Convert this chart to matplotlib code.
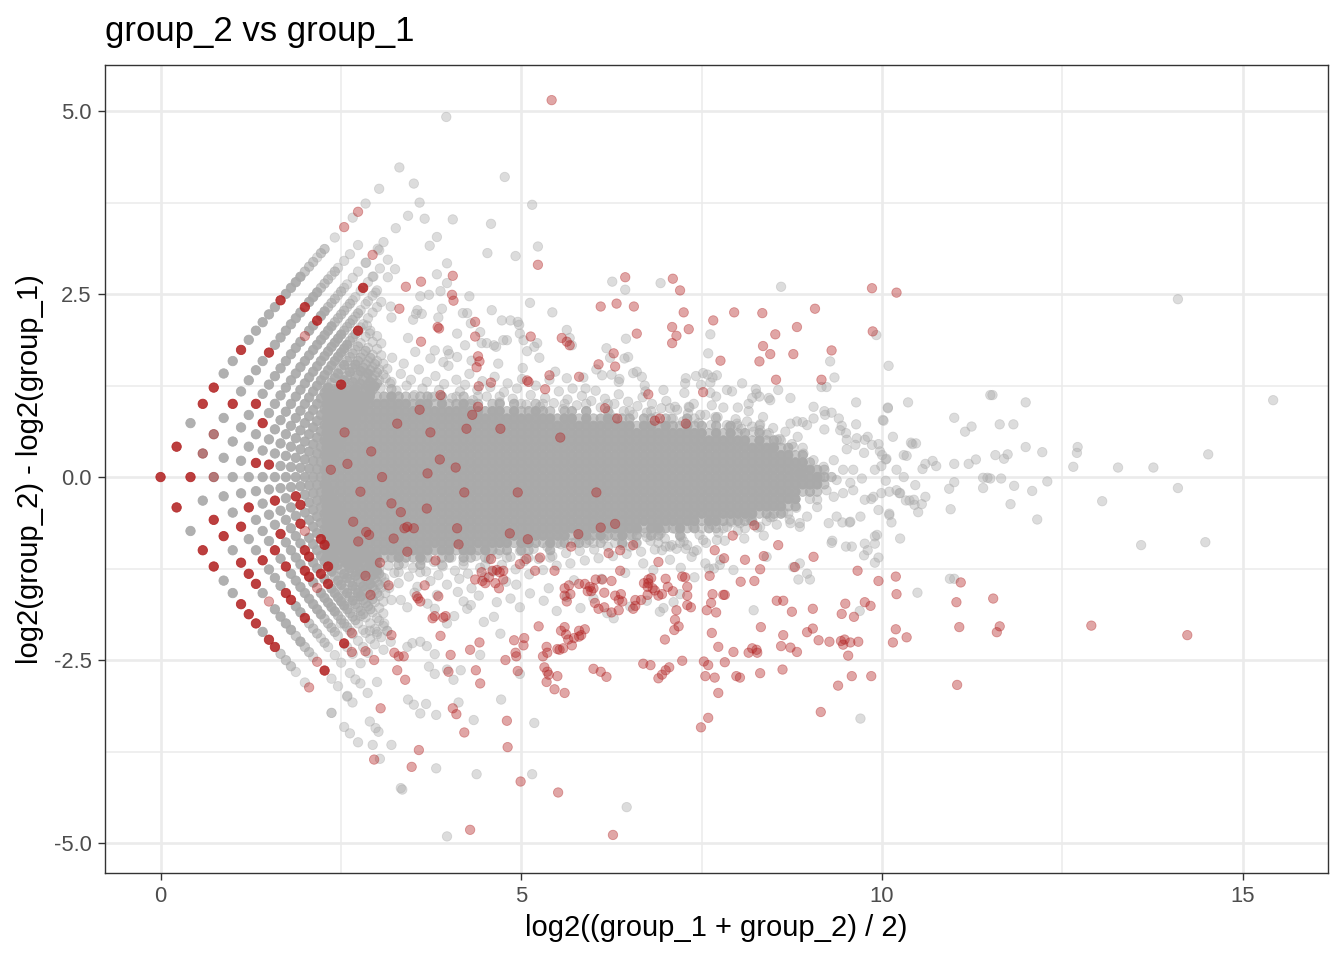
import numpy as np
import matplotlib.pyplot as plt
from matplotlib.colors import to_rgba

plt.rcParams['font.family'] = ['Liberation Sans', 'DejaVu Sans']

# low counts: summed counts of 3 replicates per group (mean = sum / 3)
# upper_arcs[k1] -> one code per group_2 sum, starting at k2 = k1
# lower_arcs[k2] -> one code per group_1 sum, starting at k1 = k2 + 1
# g/h/G = 1/2/5 genes not significant, r/R = 1/4 significant genes,
# m = 4 not significant + 1 significant on the same spot
upper_arcs = {
    3: "RRGRRGGRGGGGGRGGGG" "hhhghh" "..g..r..g.r..g.....g",
    4: "RmmGRGGGGRGGGGGGRGGG" "hhhghg" ".g.g..g",
    5: "mGGGGRGGGGGGGGrGGRGG" "hhhghgg" ".g.g..g..r",
    6: "GGGGR" "GGGGGGGGGGGGGGG" "hhhh" "ghgg.gR.g.g",
    7: "GR" "GGGGGGGGGG" "GGGGGGGGG" "hhhh" "ghg.gg.g.g",
    8: "GR" "GGGGGGGGGG" "GGGGGGGGG" "hhhR" "gg.g.g.g.g",
    9: "GGGGGGGGGGGG" "GhGGhGhh" "hghg.g.g",
    10: "GGGGGGGGGGGGGG" "R" "GhGhGh" "hghg.g.g",
    11: "GGGGGGGGGGGGGG" "GhGhhGhh" "ghg.g.g",
    12: "GGGGGGGGGGGGGGGG" "hGhhGh" "ghg.g",
    13: "GGGGGGGGGGGGGGGG" "hGhGh" "ghg.g",
    14: "GGGGGGGGGGGGGGGG" "hGhGh" "g.g.g",
}
lower_arcs = {
    3: "RGRRGGRRRGRR" "hhhg.gr" ".....h" "...g.g..g",
    4: "GRRGRRRGr" "GGGG" "hGhh" "gr" ".R" ".g.g" "..g",
    5: "GGRGG" "R" "GGG" "RR" "GG" "R" "hhh" "g" "h" "g" ".g.g" "..g" ".g",
    6: "GRGGGRGR" "GGGGGGGG" "hhhh" "g.Rg.g..g",
    7: "GGGGR" "GGGG" "RR" "G" "r" "GGGGG" "hhhh" "gg.g.g.g",
    8: "GR" "GGGGG" "RRGGRGR" "GGGGG" "hhhh" "g.gg.g.g",
    9: "GGGGRr" "GGGGG" "R" "GhGGhGhG" "hhhh" "g.g.gg.g",
    10: "GRR" "GGGG" "RR" "GhGGhGGhGhGG" "hhhh" "g.gg.g.g",
    11: "GGGGGGGGGGGGGG" "GhGhhGhh" "ghg.g.g",
    12: "GGGGGGGGGGGGGGGG" "hGhhGh" "ghg.g",
    13: "GGGGGGGGGGGGGGGG" "hGhGh" "ghg.g",
    14: "GGGGGGGGGGGGGGGG" "hGhGh" "g.g.g",
}
# (not significant, significant) genes behind each code
code_genes = {'g': (1, 0), 'h': (2, 0), 'G': (5, 0), 'r': (0, 1), 'R': (0, 4), 'm': (4, 1)}

# dense centre: genes per 0.1 x 0.1 cell (9 = nine or more), columns 2.3 ... 9.8
core_x = np.round(np.arange(2.3, 9.85, 0.1), 1)
core_y = [1.3, 1.2, 1.1, 1.0, 0.9, 0.8, 0.7, 0.6, 0.5, 0.4, 0.3, 0.2, 0.1, 0.0,
          -0.1, -0.2, -0.3, -0.4, -0.5, -0.6, -0.7, -0.8, -0.9, -1.0, -1.1, -1.2, -1.3]
core_density = [
    "1000001001 0000000000 0000000000 0000000000 0000000000 0000000000 0000000000 000000",
    "3231303002 0000000000 0000000000 0000000000 0000000000 0000000000 0000000000 000000",
    "9992929239 3212313012 0100100000 0000000000 0000000000 0000000000 0000000000 000000",
    "9999999999 9939929239 3202303102 1001001001 0000000000 0000000000 0000000000 000000",
    "9999999999 9999999999 9939929239 3202303002 0010010000 0000000000 0000000000 000000",
    "9999999999 9999999999 9999999999 9939929239 3230320210 3100100000 0000000000 000000",
    "9999999999 9999999999 9999999999 9999999999 9992993932 9230303100 1000000000 000000",
    "9999999999 9999999999 9999999999 9999999999 9999999999 9992929230 3000000000 000000",
    "9999999999 9999999999 9999999999 9999999999 9999999999 9999999992 9231000000 000000",
    "9999999999 9999999999 9999999999 9999999999 9999999999 9999999999 9992301000 000000",
    "9999999999 9999999999 9999999999 9999999999 9999999999 9999999999 9999923000 000000",
    "9999999999 9999999999 9999999999 9999999999 9999999999 9999999999 9999999200 000000",
    "9999999999 9999999999 9999999999 9999999999 9999999999 9999999999 9999999932 000000",
    "9999999999 9999999999 9999999999 9999999999 9999999999 9999999999 9999999993 200000",
    "9999999999 9999999999 9999999999 9999999999 9999999999 9999999999 9999999992 000000",
    "9999999999 9999999999 9999999999 9999999999 9999999999 9999999999 9999992320 000000",
    "9999999999 9999999999 9999999999 9999999999 9999999999 9999999999 9999990100 000000",
    "9999999999 9999999999 9999999999 9999999999 9999999999 9999999999 9999230000 000000",
    "9999999999 9999999999 9999999999 9999999999 9999999999 9999999999 2323100000 000000",
    "9999999999 9999999999 9999999999 9999999999 9999999999 9929932323 0100000000 000000",
    "9999999999 9999999999 9999999999 9999999999 9999299329 2313210010 0000000000 000000",
    "9999999999 9999999999 9999999999 9999299393 2923032003 0000000000 0000000000 000000",
    "9999999999 9999999999 9999992993 2923132120 1301001001 0000000000 0000000000 000000",
    "9999999999 9999939929 9393230320 0300000000 0000000000 0000000000 0000000000 000000",
    "9929939923 9329202303 2020010010 0100000000 0000000000 0000000000 0000000000 000000",
    "2303202300 2003001001 0010000000 0000000000 0000000000 0000000000 0000000000 000000",
    "0100100100 1001000000 0000000000 0000000000 0000000000 0000000000 0000000000 000000",
]

# single genes outside the dense part
grey_xy = [
    (3.96, 4.92), (3.31, 4.23), (3.51, 4.01), (3.59, 3.75), (4.77, 4.10), (5.15, 3.72),
    (3.43, 3.57), (3.66, 3.53), (4.05, 3.52), (4.58, 3.46), (3.26, 3.40), (3.83, 3.28),
    (3.73, 3.16), (3.09, 3.21), (3.01, 3.12), (3.03, 3.10), (4.53, 3.06), (4.92, 3.02),
    (5.23, 3.15), (2.85, 2.93), (3.15, 2.97), (3.25, 2.84), (3.04, 2.85), (3.97, 2.92),
    (3.83, 2.77), (3.15, 2.73), (2.95, 2.74), (2.98, 2.52), (3.97, 2.65), (3.88, 2.54),
    (3.72, 2.49), (3.60, 2.47), (4.28, 2.47), (6.26, 2.67), (6.44, 2.56), (6.93, 2.65),
    (5.12, 2.38), (5.43, 2.25), (4.59, 2.28), (4.73, 2.14), (4.95, 2.12), (4.97, 2.08),
    (4.25, 2.24), (4.30, 2.10), (3.90, 2.30), (3.85, 2.18), (3.56, 2.28), (3.54, 2.23),
    (3.62, 2.23), (3.50, 2.15), (3.19, 2.33), (3.20, 2.18), (2.86, 2.07), (2.90, 1.96),
    (5.63, 2.01), (5.67, 1.90), (5.70, 1.80), (5.22, 1.83), (5.25, 1.63), (5.08, 1.72),
    (4.80, 1.87), (4.65, 1.78), (4.62, 1.80), (4.45, 1.83), (4.43, 1.98), (4.11, 1.64),
    (4.00, 1.68), (3.98, 1.73), (3.80, 1.73), (3.43, 1.90), (6.18, 1.76), (6.23, 1.63),
    (6.43, 1.62), (6.48, 1.64), (6.45, 1.89), (6.55, 1.42), (6.25, 1.40), (6.36, 1.34),
    (4.19, 2.24), (4.11, 1.96), (4.22, 1.80), (4.52, 1.83), (4.85, 2.14), (4.75, 1.87),
    (4.98, 1.96), (5.03, 1.87), (5.18, 1.78), (3.21, 1.63), (3.37, 1.55), (3.53, 1.71),
    (3.74, 1.62), (3.92, 1.57), (4.31, 1.59), (4.68, 1.55), (5.02, 1.49), (5.47, 1.44),
    (5.86, 1.36), (6.04, 1.47), (6.71, 1.25),
    # fuzzy upper rim of the dense part
    (3.05, 1.22), (3.12, 1.35), (3.18, 1.28), (3.27, 1.18), (3.33, 1.41), (3.41, 1.25),
    (3.47, 1.33), (3.52, 1.12), (3.58, 1.47), (3.63, 1.21), (3.69, 1.30), (3.76, 1.09),
    (3.81, 1.38), (3.86, 1.19), (3.93, 1.27), (3.99, 1.52), (4.04, 1.08), (4.10, 1.33),
    (4.15, 1.17), (4.22, 1.26), (4.28, 1.41), (4.33, 1.05), (4.39, 1.19), (4.46, 1.31),
    (4.52, 1.10), (4.57, 1.23), (4.63, 1.37), (4.70, 1.02), (4.76, 1.16), (4.81, 1.28),
    (4.88, 1.07), (4.94, 1.21), (5.01, 1.34), (5.07, 0.99), (5.13, 1.12), (5.20, 1.25),
    (5.26, 0.96), (5.33, 1.08), (5.39, 1.33), (5.45, 1.01), (5.52, 1.17), (5.58, 0.93),
    (5.64, 1.06), (5.71, 1.21), (5.77, 0.98), (5.84, 1.11), (5.90, 0.90), (5.97, 1.04),
    (6.03, 1.18), (6.10, 0.95), (6.16, 1.07), (6.22, 0.87), (6.29, 1.00), (6.35, 1.13),
    (6.42, 0.90), (6.48, 1.03), (6.55, 0.85), (6.61, 0.97), (6.68, 1.09), (6.74, 0.88),
    (6.81, 1.00), (6.87, 0.82), (6.94, 0.94), (7.01, 1.04), (7.08, 0.80), (7.16, 0.92),
    (7.24, 0.76), (7.31, 0.87), (7.39, 1.00), (7.46, 0.74), (7.55, 0.85), (7.63, 0.71),
    (7.72, 0.82), (7.80, 0.95), (7.88, 0.68), (7.97, 0.79), (8.05, 0.66), (8.13, 0.76),
    (8.22, 0.62), (8.31, 0.72), (8.40, 0.58), (8.49, 0.67), (8.58, 0.52), (8.66, 0.62),
    (8.75, 0.45), (8.83, 0.55), (5.63, 1.35), (5.89, 1.21), (6.12, 1.39), (6.35, 1.30),
    (6.60, 1.44), (6.67, 1.37), (6.72, 1.17), (6.97, 1.19), (7.27, 1.28), (7.52, 1.42),
    (7.71, 1.39), (7.85, 1.19), (7.92, 1.17), (8.06, 1.28), (8.26, 1.14), (8.43, 1.08),
    (8.56, 1.19), (8.73, 1.08), (7.06, 0.94), (7.32, 0.96), (7.48, 0.85), (7.64, 0.98),
    (7.69, 0.82), (7.85, 0.71), (7.99, 0.73), (8.20, 0.69), (8.31, 0.64), (8.43, 0.60),
    (8.54, 0.51), (8.73, 0.73), (8.49, 0.41), (8.77, 0.41),
    # right end of the dense part
    (9.05, 0.96), (9.21, 0.85), (9.64, 1.02), (10.08, 0.94), (10.36, 1.02), (10.01, 0.78),
    (8.82, 0.76), (8.96, 0.71), (9.42, 0.64), (9.51, 0.51), (9.65, 0.53), (9.76, 0.51),
    (9.86, 0.44), (9.97, 0.35), (10.05, 0.24), (10.40, 0.47), (10.30, 0.30), (10.46, -0.11),
    (10.44, -0.31), (10.25, -0.22), (10.10, -0.50), (10.25, -0.84), (9.90, -0.91), (9.93, -0.79),
    (9.95, -1.10), (9.90, -1.17), (9.99, -0.22), (9.88, -0.27), (9.76, -0.31), (9.60, -0.18),
    (9.46, -0.22), (9.33, -0.27), (9.23, -0.18), (9.10, -0.31), (9.70, -0.54), (9.56, -0.61),
    (9.37, -0.54), (9.26, -0.63), (9.10, -0.41), (8.96, -0.54), (8.86, -0.63), (9.60, 0.10),
    (9.72, -0.02), (9.46, 0.10), (9.33, 0.23), (9.19, 0.14), (9.05, 0.23), (8.91, 0.32),
    (8.86, 0.05), (9.14, 0.00), (9.63, 0.44), (9.75, 0.33), (9.51, 0.38), (9.56, -0.08),
    (9.37, -0.04), (10.06, 0.25), (9.99, 0.15), (10.20, -0.18),
    (8.60, 2.60), (7.62, 1.95), (7.59, 1.69), (9.92, 1.94), (10.09, 1.52), (9.28, 1.58),
    (9.34, 1.36), (9.16, 1.23), (9.23, 1.23), (7.28, 1.35), (7.26, 1.15), (7.42, 1.38),
    (7.58, 1.40), (7.65, 1.36), (7.62, 1.29), (8.25, 1.20), (8.30, 1.10), (8.20, 1.08),
    (8.45, 1.05), (8.15, 1.00), (11.50, 1.12), (10.08, 0.95),
    (11.00, 0.81), (11.24, 0.69), (11.15, 0.62), (11.82, 0.72), (10.02, 0.77), (9.64, 0.72),
    (9.44, 0.70), (9.20, 0.90), (9.30, 0.88), (9.40, 0.80), (7.33, 0.95), (7.13, 0.96),
    (7.49, 1.26), (7.62, 1.15), (7.70, 1.10), (8.00, 0.95), (8.15, 0.90), (8.35, 0.82),
    (8.90, 0.75), (9.05, 0.80), (9.20, 0.65), (9.50, 0.60), (10.34, 0.29), (10.42, 0.45),
    (10.47, 0.46), (10.60, 0.18), (10.70, 0.22), (10.75, 0.15), (10.56, 0.11), (11.00, 0.18),
    (11.20, 0.18), (11.30, 0.24), (11.69, 0.25), (11.40, -0.01), (11.46, -0.01), (11.40, -0.15),
    (11.00, -0.07), (10.93, -0.16), (10.24, -0.22), (10.33, -0.32), (10.38, -0.32), (10.45, -0.38),
    (10.50, -0.48), (10.55, -0.37), (10.60, -0.27), (10.95, -0.44), (10.10, -0.52),
    (10.13, -0.62), (9.90, -0.81), (9.58, -0.95), (9.31, -0.87), (9.55, -0.62), (9.45, -0.62),
    (9.95, 0.45), (10.00, 0.30), (9.90, 0.10), (10.05, -0.05), (9.85, -0.30), (10.10, -0.20),
    (10.20, 0.10), (10.30, 0.00), (9.95, -0.45), (10.15, 0.55), (9.80, 0.55),
    (14.10, 2.43), (15.42, 1.05), (11.53, 1.12), (11.99, 1.02), (11.63, 0.72), (11.57, 0.30),
    (11.74, 0.31), (11.99, 0.41), (12.22, 0.34), (12.71, 0.41), (12.70, 0.33), (12.65, 0.14),
    (13.27, 0.13), (13.76, 0.13), (14.52, 0.31), (11.50, -0.02), (11.65, -0.02), (11.83, -0.12),
    (12.08, -0.19), (12.29, -0.06), (11.78, -0.37), (12.15, -0.58), (13.05, -0.33), (14.10, -0.15),
    (13.59, -0.93), (14.48, -0.89),
    (9.30, -0.90), (9.50, -0.95), (9.76, -0.91), (9.80, -1.00), (9.75, -1.07), (8.86, -1.18),
    (8.84, -1.40), (9.00, -1.40), (10.49, -1.58), (10.94, -1.39), (11.00, -1.39), (8.22, -1.82),
    (9.69, -1.83), (9.70, -3.30), (6.95, -1.00), (7.00, -0.95), (7.15, -0.98), (7.28, -0.98),
    (7.43, -1.00), (7.60, -1.25), (7.67, -1.25), (7.75, -1.20), (7.40, -1.37), (6.97, -1.79),
    # fuzzy lower rim of the dense part
    (3.03, -1.25), (3.10, -1.38), (3.16, -1.21), (3.24, -1.31), (3.30, -1.45), (3.37, -1.18),
    (3.44, -1.36), (3.50, -1.24), (3.56, -1.50), (3.62, -1.13), (3.68, -1.29), (3.74, -1.42),
    (3.79, -1.16), (3.85, -1.34), (3.91, -1.22), (3.97, -1.47), (4.03, -1.10), (4.08, -1.28),
    (4.14, -1.39), (4.20, -1.15), (4.26, -1.32), (4.31, -1.52), (4.37, -1.08), (4.43, -1.24),
    (4.49, -1.37), (4.55, -1.12), (4.61, -1.29), (4.67, -1.05), (4.73, -1.20), (4.79, -1.43),
    (4.85, -1.09), (4.92, -1.26), (4.98, -1.01), (5.04, -1.15), (5.11, -1.33), (5.17, -0.98),
    (5.24, -1.12), (5.30, -1.27), (5.36, -0.95), (5.43, -1.08), (5.49, -1.21), (5.55, -0.92),
    (5.62, -1.04), (5.68, -1.18), (5.75, -0.89), (5.81, -1.01), (5.88, -1.14), (5.94, -0.86),
    (6.01, -0.99), (6.07, -1.11), (6.14, -0.84), (6.20, -0.95), (6.27, -1.08), (6.33, -0.81),
    (6.40, -0.93), (6.46, -1.05), (6.53, -0.79), (6.59, -0.90), (6.66, -1.02), (6.72, -0.76),
    (6.79, -0.87), (6.85, -0.99), (6.92, -0.73), (6.99, -0.84), (7.06, -0.95), (7.14, -0.71),
    (7.22, -0.82), (7.30, -0.93), (7.38, -0.68), (7.47, -0.79), (7.56, -0.90), (7.64, -0.65),
    (7.73, -0.76), (7.82, -0.87), (7.91, -0.62), (8.00, -0.73), (8.09, -0.84), (8.18, -0.59),
    (8.27, -0.69), (8.36, -0.80), (8.45, -0.55), (8.54, -0.65), (8.63, -0.48), (8.72, -0.58),
    (8.81, -0.42), (6.60, -0.72), (6.74, -0.82), (6.93, -0.77), (7.09, -0.93), (7.25, -0.88),
    (7.39, -1.02), (7.52, -0.86), (7.71, -0.86), (7.85, -0.68), (8.03, -0.63), (8.13, -0.54),
    (8.31, -0.68), (8.49, -0.54), (8.73, -0.63), (8.86, -0.68), (7.76, -1.13), (7.94, -1.27),
    (8.40, -1.09), (8.77, -1.23), (8.96, -1.32), (6.69, -1.18), (6.51, -0.95), (7.06, -1.13),
    (7.36, -1.09),
    (3.97, -4.91), (4.38, -4.06), (5.15, -4.06), (6.46, -4.51), (3.33, -4.25), (3.35, -4.27),
    (3.82, -3.98), (3.20, -3.66), (3.04, -3.85), (2.90, -3.34), (2.98, -3.43), (3.02, -3.48),
    (2.94, -3.66), (3.72, -2.59), (3.80, -2.69), (3.97, -2.63), (3.43, -3.04), (3.51, -3.11),
    (3.68, -3.10), (3.60, -3.23), (3.82, -3.25), (4.13, -3.08), (4.34, -3.32), (4.72, -3.04),
    (5.18, -3.36), (4.98, -2.69), (4.16, -2.64), (4.06, -2.77), (3.69, -2.31), (3.80, -2.42),
    (3.60, -2.25), (3.49, -2.27), (3.42, -2.32), (3.19, -2.25), (3.09, -2.36), (3.00, -2.80),
    (2.87, -2.95), (2.77, -2.82), (2.59, -2.99), (2.66, -3.08), (4.43, -2.43), (4.71, -2.14),
    (4.48, -1.98), (4.62, -1.91), (4.20, -1.70), (4.25, -1.80), (4.30, -1.75), (4.07, -1.90),
    (3.97, -2.00), (3.80, -1.80), (3.70, -1.73), (3.42, -1.78), (3.33, -1.68), (3.20, -1.68),
    (3.10, -2.00), (3.14, -2.10), (3.00, -2.15), (2.90, -2.10), (2.77, -1.90), (2.60, -1.80),
    (2.50, -2.00), (4.66, -1.71), (4.85, -1.66), (4.98, -1.78), (5.12, -1.59), (5.31, -1.69),
    (5.49, -1.83), (5.63, -1.64), (5.82, -1.79), (6.00, -1.66), (6.19, -1.86), (6.28, -1.93),
    (6.51, -1.77), (6.74, -1.69), (6.92, -1.84), (7.11, -1.71), (7.20, -1.60), (3.52, -1.58),
    (3.83, -1.61), (4.12, -1.57), (4.41, -1.62), (4.93, -1.47), (5.38, -1.52), (5.73, -1.41),
    (6.11, -1.39), (6.44, -1.31), (6.83, -1.27), (7.21, -1.24), (7.55, -1.18),
]

sig_xy = [
    (5.42, 5.15), (5.23, 2.90), (6.44, 2.73), (7.10, 2.71), (6.10, 2.33), (6.32, 2.37),
    (6.56, 2.33), (6.60, 1.96), (7.09, 2.05), (7.15, 1.93), (7.09, 1.83), (6.28, 1.69),
    (6.30, 1.51), (6.07, 1.54), (5.39, 1.39), (5.08, 1.32), (5.10, 1.30), (5.33, 1.20),
    (5.80, 1.37), (5.13, 1.92), (5.56, 1.90), (5.63, 1.85), (5.67, 1.80), (4.36, 2.12),
    (4.36, 1.92), (4.40, 1.65), (4.42, 1.58), (4.38, 1.50), (4.58, 1.29), (4.41, 1.24),
    (4.40, 0.96), (4.32, 0.85), (4.24, 0.66), (4.71, 0.66), (5.54, 0.54), (6.16, 0.94),
    (6.33, 0.80), (6.76, 1.13), (6.92, 0.80), (3.88, 1.12), (3.59, 0.92), (3.28, 0.73),
    (3.74, 0.61), (2.55, 0.61), (2.92, 0.35), (3.87, 0.24), (4.09, 0.13), (3.70, 0.05),
    (2.59, 0.18), (2.36, 0.10), (4.05, 2.75), (4.04, 2.49), (4.06, 2.41), (3.61, 2.67),
    (3.40, 2.60), (3.31, 2.30), (3.84, 2.05), (3.86, 2.03), (3.61, 1.85),
    (7.20, 2.55), (7.25, 2.25), (7.32, 2.02), (7.66, 2.14), (7.95, 2.25), (8.34, 2.24),
    (9.07, 2.30), (8.82, 2.05), (8.52, 1.95), (8.35, 1.79), (8.45, 1.68), (8.30, 1.58),
    (8.77, 1.68), (9.30, 1.73), (9.16, 1.33), (8.53, 1.33), (7.76, 1.59), (7.52, 1.16),
    (7.28, 0.73), (6.85, 0.77), (9.86, 2.58), (10.20, 2.52), (9.87, 1.99),
    (3.07, 0.00), (2.77, -0.20), (3.20, -0.36), (3.33, -0.48), (3.69, -0.43), (4.21, -0.21),
    (4.95, -0.21), (6.04, -0.21), (2.67, -0.61), (2.85, -0.75), (2.89, -0.79), (2.74, -0.88),
    (3.23, -0.84), (3.38, -0.70), (3.42, -0.68), (3.51, -0.70), (3.42, -1.02), (4.11, -0.70),
    (4.13, -0.92), (3.81, -1.14), (3.04, -1.17), (4.84, -0.77), (5.09, -0.85), (5.79, -0.78),
    (6.10, -0.69), (6.30, -0.64), (5.69, -0.95), (6.21, -1.04), (6.37, -1.00), (6.55, -0.93),
    (4.58, -1.12), (4.98, -1.19), (5.07, -1.12), (5.26, -1.10), (4.60, -1.28), (4.66, -1.27),
    (4.70, -1.30), (4.75, -1.28), (4.45, -1.30), (4.36, -1.40), (4.46, -1.42), (4.55, -1.37),
    (4.50, -1.45), (4.64, -1.45), (4.69, -1.52), (4.75, -1.40), (5.19, -1.28), (5.46, -1.28),
    (5.60, -1.52), (5.66, -1.48), (5.60, -1.62), (5.63, -1.70), (5.68, -1.60), (5.80, -1.46),
    (5.88, -1.46), (5.92, -1.56), (5.95, -1.50), (6.00, -1.52), (5.97, -1.56), (6.03, -1.40),
    (6.12, -1.40), (6.25, -1.42), (6.15, -1.58), (6.30, -1.62), (6.38, -1.60), (6.35, -1.68),
    (6.40, -1.70), (6.58, -1.68), (6.66, -1.68), (6.02, -1.72), (6.07, -1.80), (6.15, -1.78),
    (6.25, -1.85), (6.35, -1.82), (6.55, -1.80), (6.58, -1.76), (6.70, -1.45), (6.75, -1.50),
    (6.80, -1.38), (6.76, -1.40), (6.82, -1.52), (6.90, -1.16), (6.37, -1.28), (7.00, -1.39),
    (6.69, -2.55), (6.79, -2.57), (6.00, -2.62), (6.10, -2.66), (6.18, -2.73), (5.50, -2.72),
    (5.46, -2.90), (5.60, -2.95), (5.35, -2.80), (5.30, -2.45), (5.32, -2.60), (5.36, -2.66),
    (5.38, -2.70), (5.58, -2.34), (5.73, -2.20), (5.70, -2.30), (5.80, -2.18), (5.83, -2.16),
    (5.88, -2.08), (5.80, -2.10), (5.55, -2.10), (5.60, -2.05), (5.62, -2.15), (5.65, -2.22),
    (5.24, -2.04), (5.35, -2.32), (5.36, -2.40), (5.50, -2.35), (5.53, -2.36), (5.04, -2.20),
    (5.03, -2.30), (4.90, -2.23), (4.78, -2.50), (4.93, -2.45), (4.92, -2.40), (4.95, -2.65),
    (4.80, -3.33), (4.81, -3.69), (4.99, -4.16), (5.51, -4.31), (6.27, -4.89), (4.29, -4.82),
    (3.48, -3.96), (3.58, -3.73), (3.05, -3.16), (2.96, -3.86), (4.21, -3.49), (4.10, -3.24),
    (4.05, -3.16), (4.42, -2.26), (4.02, -2.43), (3.99, -2.66), (4.29, -2.36), (4.37, -2.64),
    (4.43, -2.82), (3.88, -2.17), (3.80, -1.90), (3.77, -1.93), (3.92, -1.92), (3.95, -1.90),
    (3.20, -2.16), (3.24, -2.40), (3.28, -2.64), (3.39, -2.77), (3.30, -2.45), (3.37, -2.45),
    (2.96, -2.50), (2.65, -2.39), (2.84, -2.38), (3.16, -1.48), (3.55, -1.63), (3.60, -1.70),
    (3.57, -1.66), (3.66, -1.48), (3.85, -1.63), (2.91, -1.61), (2.65, -2.13), (2.84, -1.35),
    (8.56, -0.93), (9.05, -1.09), (7.68, -1.00), (7.81, -1.11), (8.10, -1.13), (8.36, -1.08),
    (8.31, -1.26), (8.79, -1.23), (9.66, -1.28), (9.95, -1.42), (10.19, -1.36), (11.09, -1.44),
    (10.20, -1.60), (11.03, -1.71), (11.54, -1.66), (10.19, -2.08), (10.34, -2.19), (10.15, -2.26),
    (11.07, -2.05), (11.04, -2.84), (7.61, -1.35), (8.04, -1.43), (8.23, -1.42), (9.49, -1.73),
    (9.76, -1.71), (9.84, -1.76), (9.44, -1.87), (9.61, -1.91), (9.04, -1.80), (8.75, -1.84),
    (8.54, -1.69), (8.63, -1.69), (8.32, -2.05), (8.96, -2.12), (9.04, -2.07), (8.63, -2.16),
    (9.12, -2.23), (9.27, -2.25), (9.43, -2.24), (9.48, -2.22), (9.46, -2.29), (9.56, -2.26),
    (9.67, -2.25), (9.53, -2.44), (8.60, -2.31), (8.73, -2.33), (8.82, -2.39), (8.20, -2.34),
    (8.15, -2.40), (8.27, -2.40), (8.26, -2.36), (7.94, -2.39), (7.73, -2.32), (7.82, -2.53),
    (8.31, -2.68), (8.62, -2.63), (7.53, -2.52), (7.59, -2.57), (7.23, -2.51), (7.05, -2.60),
    (7.00, -2.64), (6.95, -2.70), (6.90, -2.75), (7.55, -2.72), (7.68, -2.74), (7.98, -2.72),
    (8.03, -2.74), (7.73, -2.95), (7.59, -3.29), (7.49, -3.42), (9.39, -2.85), (9.58, -2.72),
    (9.85, -2.72), (9.15, -3.21), (7.23, -1.36), (7.27, -1.37), (6.76, -1.45), (6.85, -1.55),
    (7.03, -1.50), (7.10, -1.56), (7.30, -1.50), (7.30, -1.62), (6.75, -1.61), (6.90, -1.62),
    (6.95, -1.60), (7.15, -1.82), (7.30, -1.75), (7.35, -1.78), (7.57, -1.82), (7.65, -1.60),
    (7.63, -1.72), (7.70, -1.85), (7.80, -1.61), (7.82, -1.61), (7.13, -1.95), (7.12, -2.09),
    (6.99, -2.22), (7.18, -2.04), (7.64, -2.13), (11.63, -2.04), (11.59, -2.12), (12.90, -2.03),
    (14.23, -2.16), (8.23, -0.66), (7.93, -0.80),
]

GREY = to_rgba('darkgray')
RED = to_rgba('firebrick')
ALPHA = 0.4


def stacked(base, n):
    # n genes drawn on the same spot with alpha 0.4 each
    return (base[0], base[1], base[2], 1 - (1 - ALPHA) ** n)


def lattice_points():
    pts = {'grey': ([], [], []), 'sig': ([], [], [])}

    def add(k1, k2, code):
        m1, m2 = k1 / 3, k2 / 3
        x = np.log2((m1 + m2) / 2)
        y = np.log2(m2) - np.log2(m1)
        n_grey, n_sig = code_genes[code]
        for key, n in (('grey', n_grey), ('sig', n_sig)):
            if n:
                pts[key][0].append(x)
                pts[key][1].append(y)
                pts[key][2].append(n)

    for k1, codes in upper_arcs.items():
        for i, c in enumerate(codes):
            if c != '.':
                add(k1, k1 + i, c)
    for k2, codes in lower_arcs.items():
        for i, c in enumerate(codes):
            if c != '.':
                add(k2 + 1 + i, k2, c)
    return pts


lat = lattice_points()

gx, gy, gc = [], [], []
for yv, row in zip(core_y, core_density):
    row = row.replace(" ", "")
    for xv, d in zip(core_x, row):
        n = int(d)
        if n > 0:
            gx.append(xv)
            gy.append(yv)
            gc.append(stacked(GREY, n))
for xv, yv, n in zip(*lat['grey']):
    gx.append(xv)
    gy.append(yv)
    gc.append(stacked(GREY, n))
for xv, yv in grey_xy:
    gx.append(xv)
    gy.append(yv)
    gc.append(stacked(GREY, 1))

rx, ry, rc = [], [], []
for xv, yv, n in zip(*lat['sig']):
    rx.append(xv)
    ry.append(yv)
    rc.append(stacked(RED, n))
for xv, yv in sig_xy:
    rx.append(xv)
    ry.append(yv)
    rc.append(stacked(RED, 1))

fig = plt.figure(figsize=(13.44, 9.6), dpi=100)
ax = fig.add_axes([105 / 1344, 1 - 873 / 960, (1328 - 105) / 1344, (873 - 65) / 960])

ax.scatter(gx, gy, s=46, c=gc, edgecolors=gc, linewidths=0.6, zorder=2)
ax.scatter(rx, ry, s=46, c=rc, edgecolors=rc, linewidths=0.6, zorder=3)

ax.set_xlim(-0.77, 16.18)
ax.set_ylim(-5.41, 5.63)
ax.set_xticks([0, 5, 10, 15])
ax.set_xticks([2.5, 7.5, 12.5], minor=True)
ax.set_yticks([-5, -2.5, 0, 2.5, 5])
ax.set_yticklabels(["-5.0", "-2.5", "0.0", "2.5", "5.0"])
ax.set_yticks([-3.75, -1.25, 1.25, 3.75], minor=True)

ax.grid(which='major', color='#EBEBEB', linewidth=1.9, zorder=0)
ax.grid(which='minor', color='#EBEBEB', linewidth=1.1, zorder=0)
ax.set_axisbelow(True)
for sp in ax.spines.values():
    sp.set_color('#333333')
    sp.set_linewidth(1.0)
    sp.set_zorder(5)

ax.tick_params(which='major', length=5.3, width=1.0, color='#333333',
               labelsize=15.8, labelcolor='#4D4D4D', pad=4.2)
ax.tick_params(which='minor', length=0)

ax.set_xlabel("log2((group_1 + group_2) / 2)", fontsize=21, labelpad=5)
ax.set_ylabel("log2(group_2) - log2(group_1)", fontsize=21, labelpad=7)
fig.text(105 / 1344, 1 - 41 / 960, "group_2 vs group_1", fontsize=25,
         ha='left', va='baseline')

fig.savefig("out.png", dpi=100)
